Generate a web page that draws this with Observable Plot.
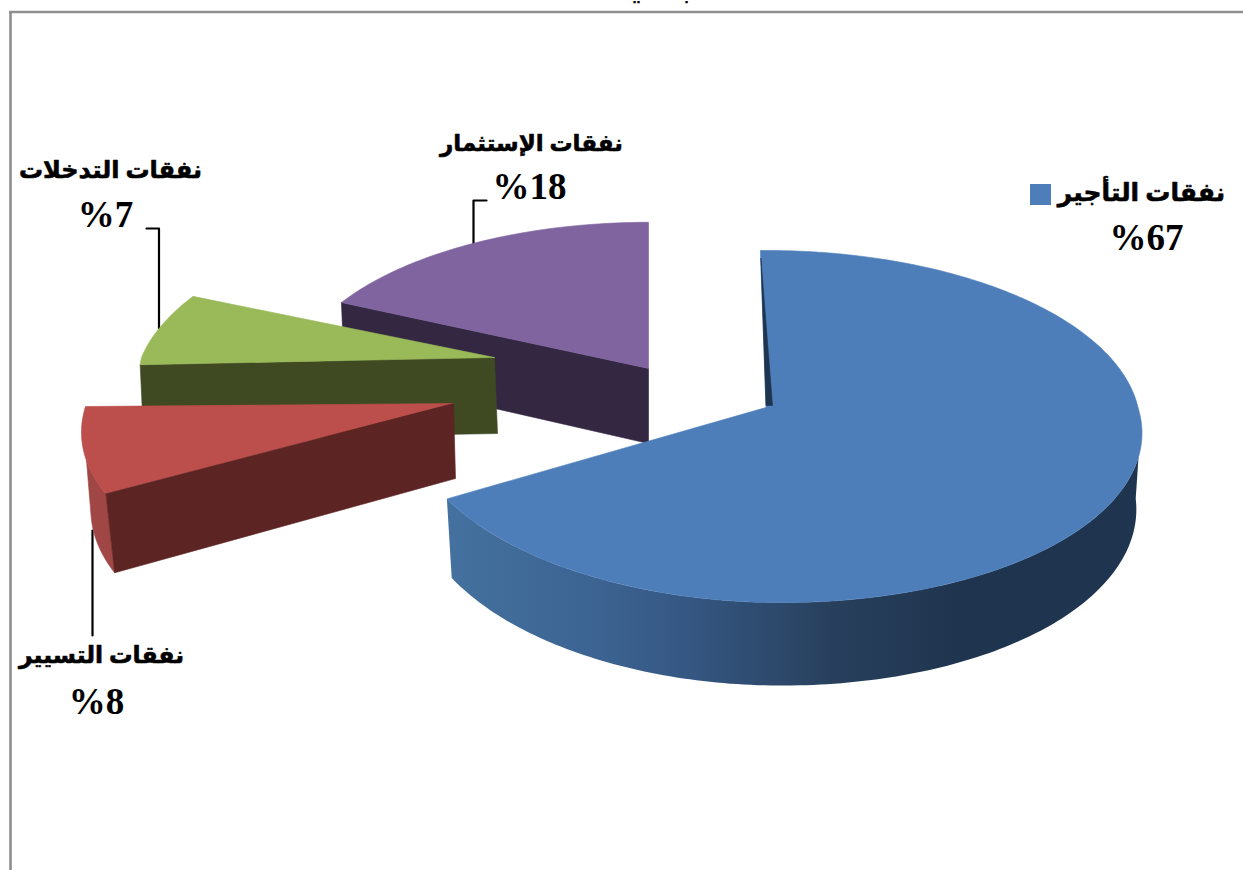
<!DOCTYPE html>
<html lang="ar">
<head>
<meta charset="utf-8">
<script src="https://cdn.jsdelivr.net/npm/d3@7"></script>
<script src="https://cdn.jsdelivr.net/npm/@observablehq/plot@0.6"></script>
<style>html,body{margin:0;padding:0;background:#fff}svg{display:block}</style>
</head>
<body>
<div id="chart"></div>
<script>
// Data (clockwise from the top)
const categories = ["نفقات التأجير", "نفقات التسيير", "نفقات التدخلات", "نفقات الإستثمار"];
const values = [67, 8, 7, 18];

// Styles
const topColors = ["#4D7EBA", "#BC4F4B", "#9ABA59", "#8064A0"];
const faceColors = ["#1F344E", "#5C2422", "#3F4A23", "#332742"];
const wallColors = [null, "#A04644", null, null];
const blueWallX = [447, 600, 700, 830, 960];
const blueWallC = ["#44719F", "#3C6391", "#345580", "#28405D", "#1F344E"];

// Projection layout per slice: apex, radii, depth, shear and bottom-ring shrink
const geometry = [
  {ax: 765.5, ay: 407, rr: 372, rl: 356, rk: 174, down: 14, up: 0, rot: 0, shrink: 0.985},
  {ax: 453, ay: 403, rr: 367, rl: 367, rk: 172, down: -21, up: 0, rot: 0, shrink: 0.975},
  {ax: 494, ay: 357, rr: 353, rl: 353, rk: 165, down: 0, up: -30, rot: -1.5, shrink: 0.99},
  {ax: 648, ay: 368, rr: 355, rl: 355, rk: 162, down: 0, up: 0, rot: 1, shrink: 0.99}
];
const startAngle = -1, tilt = 0.108, depth0 = 75, depth1 = 8;

// Label layout
const nameX = [1141, 101, 110, 531], nameY = [192, 655, 170, 143], nameSize = [25, 23.5, 24, 23];
const valueX = [1146, 96, 105, 529], valueY = [238, 702, 215, 187];
const leaders = [
  {id: "purple", pts: [[486, 200], [473, 200], [473, 243]]},
  {id: "green", pts: [[146, 228], [158.5, 228], [158.5, 328]]},
  {id: "red", pts: [[92, 530], [92, 635]]}
];
const clippedTitle = [{t: "ـيـ", x: 636}, {t: "ـبـ", x: 686}];

function pt(s, deg, bottom) {
  const th = (deg + s.rot) * Math.PI / 180, u = Math.sin(th), v = -Math.cos(th);
  const f = 1 / (1 - tilt * v);
  const dx = ((u < 0 ? s.rl : s.rr) * u + (v > 0 ? s.down : s.up) * v) * f;
  const dy = s.rk * v * f;
  return bottom
    ? [s.ax + dx * s.shrink, s.ay + dy + depth0 + depth1 * v]
    : [s.ax + dx, s.ay + dy];
}
function arc(s, a0, a1, bottom) {
  const n = Math.max(2, Math.ceil(Math.abs(a1 - a0)));
  return d3.range(n + 1).map(i => pt(s, a0 + (a1 - a0) * i / n, bottom));
}
const polys = [];
function poly(id, pts, color) {
  [...pts, pts[0]].forEach(p => polys.push({id, x: p[0], y: p[1], color}));
}
const rowsOf = (id, pts) => [...pts, pts[0]].map(p => ({id, x: p[0], y: p[1]}));

// Angles from the values
const total = d3.sum(values);
let acc = startAngle;
const angles = values.map(v => { const a = [acc, acc + v / total * 360]; acc = a[1]; return a; });

// Back to front: purple, green, red, blue
{
  const i = 3, s = geometry[i], [a0, a1] = angles[i];
  const p = pt(s, a0), b = pt(s, a0, true);
  poly("p-face", [p, [s.ax, s.ay], [s.ax, s.ay + depth0], b], faceColors[i]);
  poly("p-top", [[s.ax, s.ay], ...arc(s, a0, a1)], topColors[i]);
}
{
  const i = 2, s = geometry[i], [a0, a1] = angles[i];
  const p = pt(s, a0), b = pt(s, a0, true);
  poly("g-face", [p, [s.ax, s.ay], [s.ax + 3, s.ay + depth0 + 1], b], faceColors[i]);
  poly("g-top", [[s.ax, s.ay], ...arc(s, a0, a1)], topColors[i]);
}
{
  const i = 1, s = geometry[i], [a0, a1] = angles[i];
  poly("r-wall", [...arc(s, a0, a0 + 11), ...arc(s, a0 + 17, a0, true)], wallColors[i]);
  poly("r-top", [[s.ax, s.ay], ...arc(s, a0, a1)], topColors[i]);
  poly("r-face", [pt(s, a0), [s.ax, s.ay], [s.ax + 2, s.ay + depth0], pt(s, a0, true)], faceColors[i]);
}
const blue = geometry[0], [b0, b1] = angles[0];
const blueWall = rowsOf("b-wall", [...arc(blue, 106, b1), ...arc(blue, b1, 95, true)]);
poly("b-top", [[blue.ax, blue.ay], ...arc(blue, b0, b1)], topColors[0]);
const p0 = pt(blue, b0);
poly("b-strip", [[p0[0] + 0.5, p0[1] + 8], [blue.ax + 6.5, blue.ay - 2], [blue.ax, blue.ay - 2]], faceColors[0]);

// Shaded wall of the large slice: a gradient along x
function wallGradient() {
  const ns = "http://www.w3.org/2000/svg";
  const defs = document.createElementNS(ns, "defs");
  const g = document.createElementNS(ns, "linearGradient");
  g.setAttribute("id", "blueWall");
  g.setAttribute("gradientUnits", "userSpaceOnUse");
  g.setAttribute("x1", blueWallX[0]); g.setAttribute("x2", blueWallX[blueWallX.length - 1]);
  g.setAttribute("y1", 0); g.setAttribute("y2", 0);
  blueWallX.forEach((x, i) => {
    const st = document.createElementNS(ns, "stop");
    st.setAttribute("offset", (x - blueWallX[0]) / (blueWallX[blueWallX.length - 1] - blueWallX[0]));
    st.setAttribute("stop-color", blueWallC[i]);
    g.append(st);
  });
  defs.append(g);
  return defs;
}

const bluePolys = polys.filter(d => d.id.startsWith("b-"));
const otherPolys = polys.filter(d => !d.id.startsWith("b-"));
const names = categories.map((t, i) => ({t, x: nameX[i], y: nameY[i], size: nameSize[i]}));
const pcts = values.map((v, i) => ({t: "%" + v, x: valueX[i], y: valueY[i]}));
const leaderRows = leaders.flatMap(l => l.pts.map(p => ({id: l.id, x: p[0], y: p[1]})));
const serif = "'Liberation Serif','DejaVu Sans',serif";

const chart = Plot.plot({
  width: 1243, height: 870, margin: 0,
  x: {domain: [0, 1243], range: [0, 1243], axis: null},
  y: {domain: [0, 870], range: [0, 870], axis: null},
  color: {type: "identity"},
  marks: [
    wallGradient,
    Plot.ruleX([10], {y1: 11, y2: 870, stroke: "#8E8E8E", strokeWidth: 2.6}),
    Plot.ruleY([11.5], {x1: 9, x2: 1243, stroke: "#8E8E8E", strokeWidth: 2.6}),
    Plot.line(leaderRows, {x: "x", y: "y", z: "id", stroke: "#000", strokeWidth: 2.2, curve: "linear"}),
    Plot.line(otherPolys, {x: "x", y: "y", z: "id", fill: "color", stroke: "color", strokeWidth: 0.6, curve: "linear"}),
    Plot.line(blueWall, {x: "x", y: "y", z: "id", fill: "url(#blueWall)", stroke: "none", curve: "linear"}),
    Plot.line(bluePolys, {x: "x", y: "y", z: "id", fill: "color", stroke: "color", strokeWidth: 0.6, curve: "linear"}),
    Plot.rect([{x1: 1030, x2: 1051, y1: 184, y2: 205}], {x1: "x1", x2: "x2", y1: "y1", y2: "y2", fill: topColors[0]}),
    Plot.text(names, {x: "x", y: "y", text: "t", fontFamily: serif, fontWeight: "bold", fontSize: "size", fill: "#000", stroke: "#000", strokeWidth: 0.6}),
    Plot.text(pcts, {x: "x", y: "y", text: "t", fontFamily: serif, fontWeight: "bold", fontSize: 37, fill: "#000"}),
    Plot.text(clippedTitle, {x: "x", y: -13, text: "t", fontFamily: serif, fontWeight: "bold", fontSize: 32, fill: "#000"})
  ]
});
document.getElementById("chart").append(chart);
</script>
</body>
</html>
